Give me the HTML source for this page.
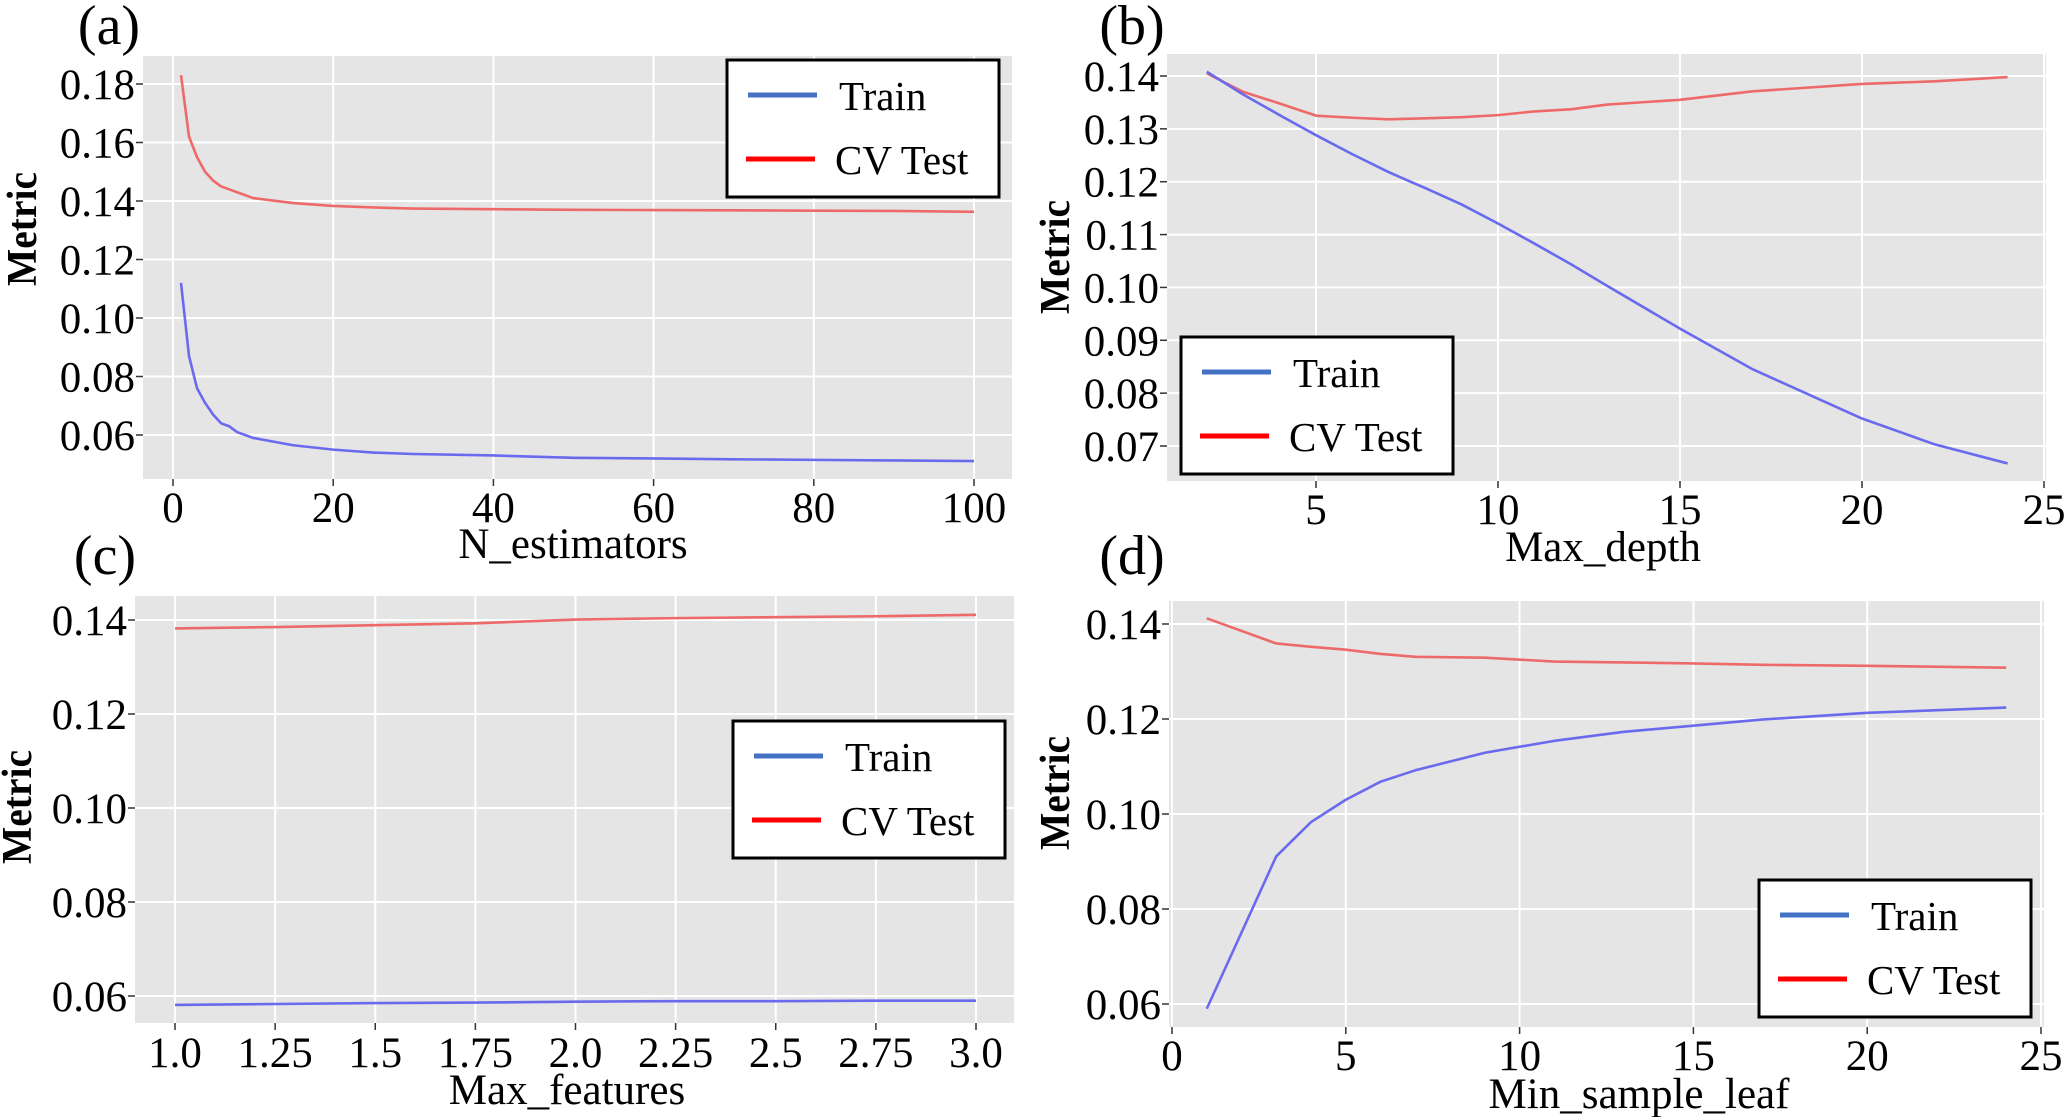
<!DOCTYPE html>
<html><head><meta charset="utf-8"><style>
html,body{margin:0;padding:0;background:#fff;}
svg{display:block;}
text{font-family:"Liberation Serif","DejaVu Serif","Times New Roman",serif;fill:#000;}
</style></head><body>
<svg id="fig" width="2067" height="1117" viewBox="0 0 2067 1117" xmlns="http://www.w3.org/2000/svg"></svg>
<script>
// Panel (a)
const aX=[1,2,3,4,5,6,7,8,9,10,15,20,25,30,40,50,60,70,80,90,100];
const aCV=[0.183,0.162,0.155,0.150,0.147,0.145,0.144,0.143,0.142,0.141,0.1393,0.1383,0.1378,0.1374,0.1372,0.1370,0.1369,0.1368,0.1367,0.1366,0.1363];
const aTrain=[0.112,0.087,0.076,0.071,0.067,0.064,0.063,0.061,0.060,0.059,0.0565,0.055,0.054,0.0535,0.053,0.0522,0.052,0.0517,0.0515,0.0513,0.0511];
const aXTicks=[0,20,40,60,80,100];
const aYTicks=[0.06,0.08,0.10,0.12,0.14,0.16,0.18];
// Panel (b)
const bX=[2,3,4,5,6,7,8,9,10,11,12,13,15,17,20,22,24];
const bCV=[0.1405,0.137,0.1348,0.1325,0.1321,0.1318,0.132,0.1322,0.1326,0.1333,0.1337,0.1346,0.1355,0.1371,0.1385,0.139,0.1398];
const bTrain=[0.1408,0.1365,0.1326,0.1288,0.1252,0.1218,0.1188,0.1157,0.1121,0.1083,0.1044,0.1003,0.0922,0.0845,0.0752,0.0703,0.0667];
const bXTicks=[5,10,15,20,25];
const bYTicks=[0.07,0.08,0.09,0.10,0.11,0.12,0.13,0.14];
// Panel (c)
const cX=[1.0,1.25,1.5,1.75,2.0,2.25,2.5,2.75,3.0];
const cCV=[0.1382,0.1385,0.1389,0.1393,0.1401,0.1404,0.1406,0.1408,0.1411];
const cTrain=[0.0581,0.0583,0.0585,0.0586,0.0588,0.0589,0.0589,0.0590,0.0590];
const cXTicks=[1.0,1.25,1.5,1.75,2.0,2.25,2.5,2.75,3.0];
const cXTickLabels=["1.0","1.25","1.5","1.75","2.0","2.25","2.5","2.75","3.0"];
const cYTicks=[0.06,0.08,0.10,0.12,0.14];
// Panel (d)
const dX=[1,3,4,5,6,7,9,11,13,15,17,20,24];
const dCV=[0.1412,0.1359,0.1352,0.1346,0.1337,0.1331,0.1329,0.1321,0.1319,0.1317,0.1314,0.1312,0.1308];
const dTrain=[0.059,0.0911,0.0983,0.1030,0.1068,0.1092,0.1129,0.1154,0.1173,0.1186,0.1199,0.1213,0.1224];
const dXTicks=[0,5,10,15,20,25];
const dYTicks=[0.06,0.08,0.10,0.12,0.14];

const NS="http://www.w3.org/2000/svg";
const FF='"Liberation Serif","DejaVu Serif","Times New Roman",serif';
const svg=document.getElementById('fig');
function mk(tag,attrs,parent){const e=document.createElementNS(NS,tag);for(const k in attrs)e.setAttribute(k,attrs[k]);if(tag==='text')e.setAttribute('font-family',FF);(parent||svg).appendChild(e);return e;}

function panel(cfg){
  const g=mk('g',{});
  
  
  const sx=v=>cfg.x0px+(v-cfg.x0v)*(cfg.x1px-cfg.x0px)/(cfg.x1v-cfg.x0v);
  const sy=v=>cfg.y0px+(v-cfg.y0v)*(cfg.y1px-cfg.y0px)/(cfg.y1v-cfg.y0v);
  const bg=mk('rect',{x:cfg.L,y:cfg.T,width:cfg.R-cfg.L,height:cfg.B-cfg.T,fill:'#e5e5e5'},g);
  
  
  cfg.xt.forEach((t,i)=>{
    const x=sx(t);
    const gl=mk('line',{x1:x,x2:x,y1:cfg.T,y2:cfg.B,stroke:'#fff','stroke-width':2},g);
    
    
    mk('line',{x1:x,x2:x,y1:cfg.B,y2:cfg.B+7,stroke:'#333','stroke-width':1.5},g);
    const tx=mk('text',{x:x,y:cfg.xtY,'font-size':43,'text-anchor':'middle'},g);
    tx.textContent=cfg.xtl?cfg.xtl[i]:String(t);
    
    
  });
  cfg.yt.forEach(t=>{
    const y=sy(t);
    const gl=mk('line',{x1:cfg.L,x2:cfg.R,y1:y,y2:y,stroke:'#fff','stroke-width':2},g);
    
    
    mk('line',{x1:cfg.L-7,x2:cfg.L,y1:y,y2:y,stroke:'#333','stroke-width':1.5},g);
    const tx=mk('text',{x:cfg.L-8,y:y+15,'font-size':43,'text-anchor':'end'},g);
    tx.textContent=t.toFixed(2);
    
    
  });
  const line=(xs,ys,col,name)=>{
    const p=mk('polyline',{points:xs.map((v,i)=>sx(v)+','+sy(ys[i])).join(' '),fill:'none',stroke:col,'stroke-width':2.6,'stroke-linejoin':'round'},g);
    
    
  };
  line(cfg.xs,cfg.cv,'#ee6a6a','cv-test-line-'+cfg.id);
  line(cfg.xs,cfg.tr,'#6a6aee','train-line-'+cfg.id);
  const lg=mk('g',{},g);
  
  
  mk('rect',{x:cfg.lx,y:cfg.ly,width:272,height:137,fill:'#fff',stroke:'#000','stroke-width':3},lg);
  const e1=mk('line',{x1:cfg.lx+21,x2:cfg.lx+90,y1:cfg.ly+35,y2:cfg.ly+35,stroke:'#4472c4','stroke-width':5},lg);
  
  
  const t1=mk('text',{x:cfg.lx+112,y:cfg.ly+50,'font-size':41},lg);t1.textContent='Train';
  
  
  const e2=mk('line',{x1:cfg.lx+19,x2:cfg.lx+88,y1:cfg.ly+99,y2:cfg.ly+99,stroke:'#ff0000','stroke-width':5},lg);
  
  
  const t2=mk('text',{x:cfg.lx+108,y:cfg.ly+114,'font-size':41},lg);t2.textContent='CV Test';
  
  
  const xl=mk('text',{x:cfg.xlX,y:cfg.xlY,'font-size':43,'text-anchor':'middle'},g);xl.textContent=cfg.xlabel;
  
  
  const yl=mk('text',{x:0,y:0,'font-size':42,'font-weight':'bold','text-anchor':'middle',transform:`translate(${cfg.ylX},${cfg.ylY}) rotate(-90)`,textLength:114,lengthAdjust:'spacingAndGlyphs'},g);yl.textContent='Metric';
  
  
  const pl=mk('text',{x:cfg.plX,y:cfg.plY,'font-size':56,'text-anchor':'middle'},g);pl.textContent='('+cfg.id+')';
  
  
}

panel({id:'a',L:143,R:1012,T:56,B:479,x0v:0,x1v:100,x0px:173,x1px:974,y0v:0.06,y1v:0.18,y0px:435,y1px:84,
  xt:aXTicks,yt:aYTicks,xs:aX,cv:aCV,tr:aTrain,xtY:522,lx:727,ly:60,xlabel:'N_estimators',xlX:573,xlY:558,ylX:36,ylY:229,plX:109,plY:44});
panel({id:'b',L:1167,R:2046,T:54,B:481,x0v:5,x1v:25,x0px:1316,x1px:2044,y0v:0.07,y1v:0.14,y0px:446,y1px:76,
  xt:bXTicks,yt:bYTicks,xs:bX,cv:bCV,tr:bTrain,xtY:524,lx:1181,ly:337,xlabel:'Max_depth',xlX:1603,xlY:561,ylX:1069,ylY:257,plX:1132,plY:44});
panel({id:'c',L:135,R:1014,T:596,B:1023,x0v:1,x1v:3,x0px:175,x1px:976,y0v:0.06,y1v:0.14,y0px:996,y1px:620,
  xt:cXTicks,xtl:cXTickLabels,yt:cYTicks,xs:cX,cv:cCV,tr:cTrain,xtY:1067,lx:733,ly:721,xlabel:'Max_features',xlX:567,xlY:1104,ylX:31,ylY:807,plX:105,plY:574});
panel({id:'d',L:1169,R:2044,T:601,B:1027,x0v:0,x1v:25,x0px:1172,x1px:2041,y0v:0.06,y1v:0.14,y0px:1004,y1px:624,
  xt:dXTicks,yt:dYTicks,xs:dX,cv:dCV,tr:dTrain,xtY:1070,lx:1759,ly:880,xlabel:'Min_sample_leaf',xlX:1639,xlY:1108,ylX:1069,ylY:793,plX:1132,plY:574});
</script>
</body></html>
